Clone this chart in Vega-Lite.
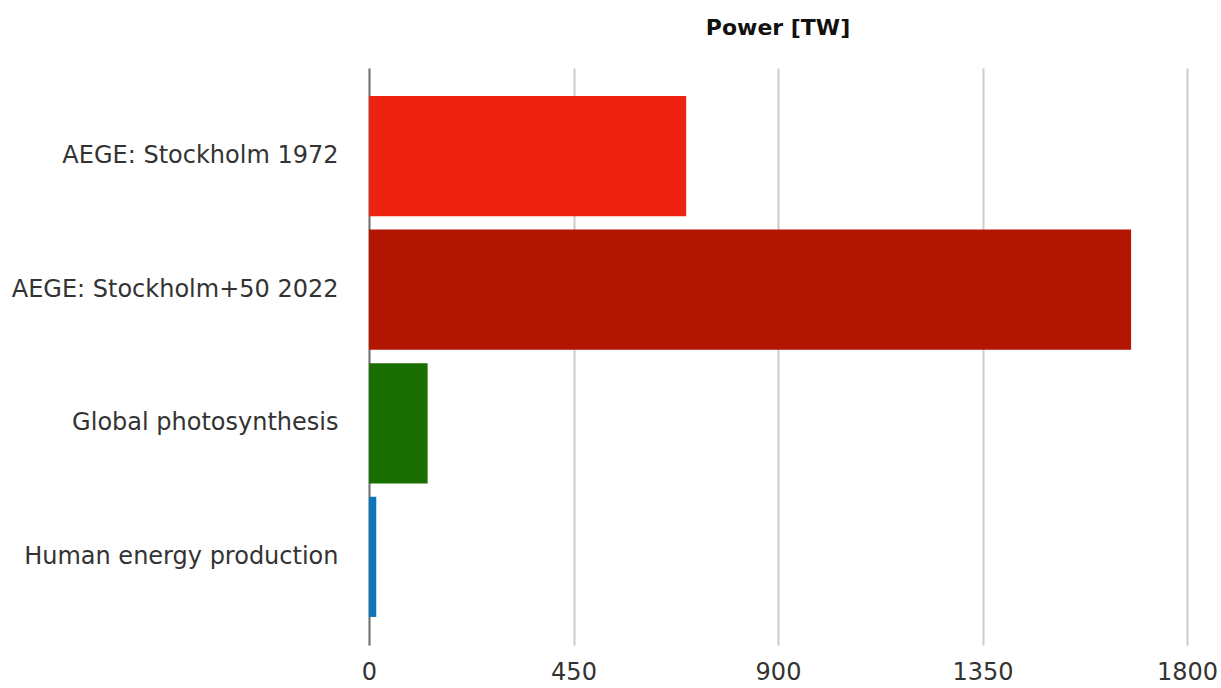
{
  "$schema": "https://vega.github.io/schema/vega-lite/v6.json",
  "autosize": {"type": "none"},
  "padding": {"left": 369, "top": 68, "right": 34, "bottom": 43},
  "width": 818,
  "height": 577,
  "background": "white",
  "config": {"view": {"stroke": null}},
  "title": {"text": "Power [TW]", "font": "DejaVu Sans", "fontSize": 22, "fontWeight": "bold", "color": "#111", "offset": 28, "anchor": "middle"},
  "data": {"values": [
    {"source": "AEGE: Stockholm 1972", "power": 698},
    {"source": "AEGE: Stockholm+50 2022", "power": 1677},
    {"source": "Global photosynthesis", "power": 129},
    {"source": "Human energy production", "power": 16}
  ]},
  "mark": {"type": "bar"},
  "encoding": {
    "y": {"field": "source", "type": "nominal", "sort": null,
      "scale": {"paddingInner": 0.1, "paddingOuter": 0.21},
      "axis": {"title": null, "ticks": false, "domain": true, "domainColor": "#777", "domainWidth": 2, "labelFont": "DejaVu Sans", "labelFontSize": 24, "labelColor": "#333", "labelPadding": 31, "labelLimit": 400}},
    "x": {"field": "power", "type": "quantitative",
      "scale": {"domain": [0, 1800], "nice": false},
      "axis": {"title": null, "values": [0, 450, 900, 1350, 1800], "format": "d", "labelFlush": false, "labelOverlap": false, "grid": true, "gridColor": "#ccc", "gridWidth": 2, "domain": false, "ticks": false, "labelFont": "DejaVu Sans", "labelFontSize": 24, "labelColor": "#333", "labelPadding": 15}},
    "color": {"field": "source", "type": "nominal", "legend": null,
      "scale": {"domain": ["AEGE: Stockholm 1972", "AEGE: Stockholm+50 2022", "Global photosynthesis", "Human energy production"], "range": ["#EE2210", "#B31600", "#196E02", "#1073C0"]}}
  }
}
